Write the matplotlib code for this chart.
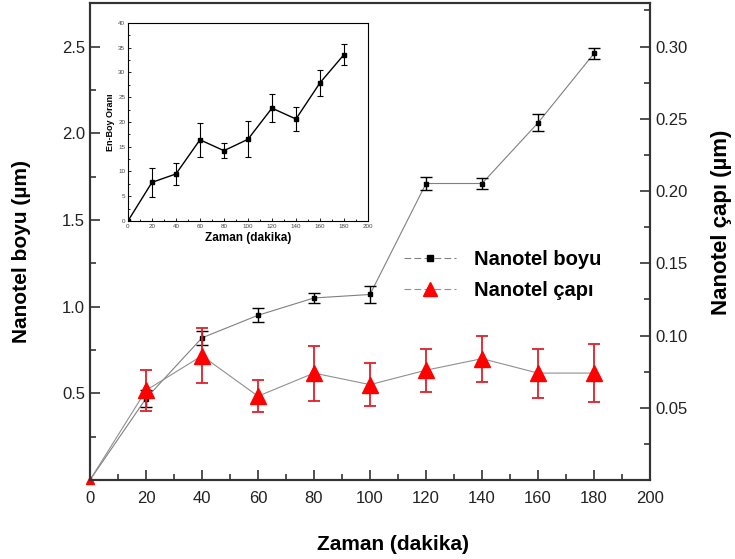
import matplotlib.pyplot as plt
import numpy as np

plt.rcParams['font.family'] = ['Liberation Sans', 'DejaVu Sans']

zaman = [0, 20, 40, 60, 80, 100, 120, 140, 160, 180]
boy = [0, 0.47, 0.82, 0.95, 1.05, 1.07, 1.71, 1.71, 2.06, 2.46]
boy_err = [0, 0.05, 0.04, 0.04, 0.03, 0.05, 0.04, 0.03, 0.05, 0.03]
cap = [0, 0.062, 0.086, 0.058, 0.074, 0.066, 0.076, 0.084, 0.074, 0.074]
cap_err = [0, 0.014, 0.019, 0.011, 0.019, 0.015, 0.015, 0.016, 0.017, 0.020]
oran = [0, 7.8, 9.5, 16.4, 14.2, 16.5, 22.8, 20.6, 27.9, 33.6]
oran_err = [0, 3.0, 2.3, 3.4, 1.5, 3.6, 2.9, 2.4, 2.7, 2.1]

fig = plt.figure(figsize=(7.35, 5.59), dpi=100)
ax = fig.add_axes([0.1224, 0.1413, 0.762, 0.853])
ax2 = ax.twinx()

# uzunluk (sol eksen)
ax.plot(zaman, boy, color='#808080', lw=0.8, zorder=2)
ax.errorbar(zaman[1:], boy[1:], yerr=boy_err[1:], fmt='s', color='black', ms=3.5,
            ecolor='black', elinewidth=1, capsize=4, capthick=1, zorder=3)

# çap (sağ eksen)
ax2.plot(zaman, cap, color='#909090', lw=0.8, zorder=2)
ax2.errorbar(zaman[1:], cap[1:], yerr=cap_err[1:], fmt='^', color='#ff0000', ms=11,
             ecolor='#e0202a', elinewidth=1.3, capsize=4, capthick=1.3, zorder=3)
ax2.plot([0], [0], marker='^', color='#ff0000', ms=6, clip_on=False)

ax.set_xlim(0, 200)
ax.set_ylim(0, 2.75)
ax2.set_ylim(0, 0.33)
ax.set_xticks(np.arange(0, 201, 20))
ax.set_xticks(np.arange(10, 200, 20), minor=True)
ax.set_yticks([0.5, 1.0, 1.5, 2.0, 2.5])
ax.set_yticklabels(['0.5', '1.0', '1.5', '2.0', '2.5'])
ax.set_yticks(np.arange(0.25, 2.75, 0.5), minor=True)
ax2.set_yticks([0.05, 0.10, 0.15, 0.20, 0.25, 0.30])
ax2.set_yticklabels(['0.05', '0.10', '0.15', '0.20', '0.25', '0.30'])
ax2.set_yticks(np.arange(0.025, 0.33, 0.05), minor=True)

for a in (ax, ax2):
    a.tick_params(which='major', direction='in', length=7, width=1.2, labelsize=12, colors='#333333',
                  labelcolor='#222222')
    a.tick_params(which='minor', direction='in', length=4, width=1.2, colors='#333333')
    for s in a.spines.values():
        s.set_linewidth(1.5)
        s.set_color('#333333')
ax.tick_params(axis='x', pad=8)

ax.set_xlabel('Zaman (dakika)', fontsize=15, fontweight='bold')
ax.xaxis.set_label_coords(0.541, -0.115)
ax.set_ylabel('Nanotel boyu (µm)', fontsize=15, fontweight='bold')
ax.yaxis.set_label_coords(-0.105, 0.48)
ax2.set_ylabel('Nanotel çapı (µm)', fontsize=16, fontweight='bold')
ax2.yaxis.set_label_coords(1.108, 0.54)

h1, = ax.plot([], [], color='#808080', lw=0.8, ls=(0, (6, 3)), marker='s', ms=4, mfc='black', mec='black')
h2, = ax.plot([], [], color='#909090', lw=0.8, ls=(0, (6, 3)), marker='^', ms=10, mfc='#ff0000', mec='#ff0000')
ax.legend([h1, h2], ['Nanotel boyu', 'Nanotel çapı'], loc='upper left', bbox_to_anchor=(0.528, 0.52),
          frameon=False, prop={'size': 14.5, 'weight': 'bold'}, handlelength=2.6, labelspacing=0.6,
          handletextpad=0.9)

# iç grafik
ins = fig.add_axes([0.1741, 0.6047, 0.3265, 0.3542])
ins.errorbar(zaman, oran, yerr=[0] + oran_err[1:], fmt='-s', color='black', ms=3, lw=1,
             elinewidth=0.8, capsize=2, capthick=0.8)
ins.set_xlim(0, 200)
ins.set_ylim(0, 40)
ins.set_xticks(np.arange(0, 201, 20))
ins.set_yticks(np.arange(0, 41, 5))
ins.set_xticks(np.arange(10, 200, 20), minor=True)
ins.set_yticks(np.arange(2.5, 40, 5), minor=True)
ins.tick_params(which='both', direction='in', labelsize=4.5, length=2, width=0.6, pad=2,
                labelcolor='#444444')
ins.tick_params(which='minor', length=1.2)
for s in ins.spines.values():
    s.set_linewidth(0.8)
ins.set_xlabel('Zaman (dakika)', fontsize=8.5, fontweight='bold', labelpad=2)
ins.set_ylabel('En-Boy Oranı', fontsize=6.5, fontweight='bold', labelpad=2)

fig.savefig('out.png', dpi=100)
